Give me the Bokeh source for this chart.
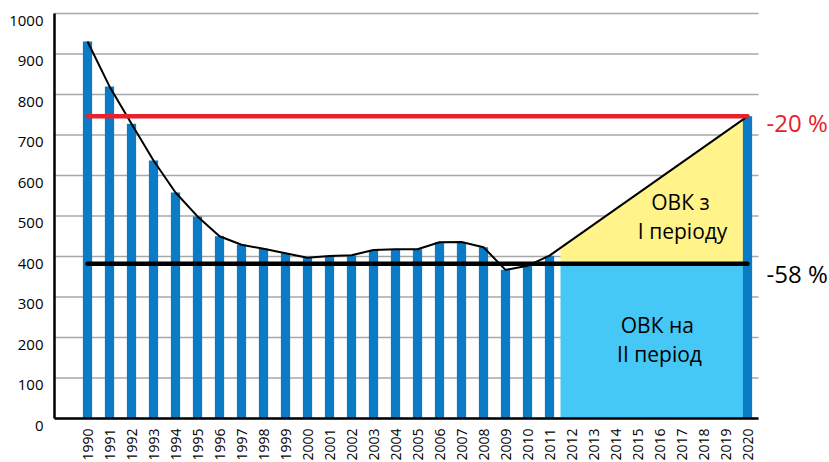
import numpy as np
from bokeh.plotting import figure
from bokeh.models import Range1d, Label, LabelSet, ColumnDataSource
from bokeh.core.properties import value
from bokeh.embed import file_html
from bokeh.resources import INLINE

# ---- data ----
years = list(range(1990, 2012))
emissions = [931, 820, 728, 637, 558, 499, 450, 429, 419, 408, 397, 401,
             403, 416, 418, 418, 435, 436, 423, 367, 377, 402]
target_year = 2020
target_value = 746          # -20 % level
second_period_value = 382   # -58 % level
period2_start = 2011.5
tick_years = list(range(1990, 2021))
y_ticks = list(range(0, 1001, 100))
label_20 = "-20 %"
label_58 = "-58 %"
txt_p1 = ["ОВК з", "І періоду"]
txt_p2 = ["ОВК на", "ІІ період"]

FONT = "Open Sans"
BAR = "#0A7BC4"
LIGHT = "#45C8F5"
YELLOW = "#FFF38A"
RED = "#E8212B"
GRID = "#A8A8A8"

W, H = 829, 462
# plotting area: x 1988.5..2020.5 over 704 px starting at px 54 ; y 0..1000 over 405 px, 0 at px 418
X0, X1 = 1988.5, 2020.5
pxx = 704 / (X1 - X0)
pxy = 405 / 1000
x_range = Range1d(X0 - 54 / pxx, X0 + (W - 54) / pxx)
y_range = Range1d(-(H - 418) / pxy, 418 / pxy)

p = figure(width=W, height=H, output_backend="svg", toolbar_location=None,
           x_range=x_range, y_range=y_range, min_border=0,
           x_axis_type=None, y_axis_type=None)
p.outline_line_color = None
p.grid.visible = False
p.background_fill_color = "white"
p.border_fill_color = "white"

# horizontal gridlines
p.segment(x0=[X0] * len(y_ticks), x1=[X1] * len(y_ticks), y0=y_ticks, y1=y_ticks,
          line_color=GRID, line_width=1.5)

# trend line data (history + straight path to target)
trend_x = years + [target_year]
trend_y = emissions + [target_value]
start_level = float(np.interp(period2_start, trend_x, trend_y))

# second period area (light blue)
p.quad(left=[period2_start], right=[target_year], bottom=[0], top=[second_period_value],
       fill_color=LIGHT, line_color=None)
# first period surplus (yellow)
p.patch(x=[period2_start, target_year, target_year, period2_start],
        y=[start_level, target_value, second_period_value, second_period_value],
        fill_color=YELLOW, line_color=None)

# bars
p.vbar(x=years + [target_year], top=emissions + [target_value], width=0.42,
       fill_color=BAR, line_color=None)

# trend line
p.line(x=trend_x, y=trend_y, line_color="black", line_width=2)

# level lines
p.line(x=[years[0], target_year], y=[second_period_value] * 2, line_color="black",
       line_width=4.5, line_cap="round")
p.line(x=[years[0], target_year], y=[target_value] * 2, line_color=RED,
       line_width=4.5, line_cap="round")

# axis lines
p.segment(x0=[X0, X0], y0=[0, 0], x1=[X0, X1], y1=[y_ticks[-1], 0],
          line_color="black", line_width=2.5)

# y tick labels
ysrc = ColumnDataSource(dict(x=[X0] * len(y_ticks), y=y_ticks, t=[str(v) for v in y_ticks]))
p.add_layout(LabelSet(x="x", y="y", text="t", source=ysrc, x_offset=-11, y_offset=-7,
                      text_align="right", text_baseline="middle",
                      text_font=value(FONT), text_font_size=value("15px"),
                      text_color="black"))

# x tick labels
xsrc = ColumnDataSource(dict(x=tick_years, y=[0] * len(tick_years),
                             t=[str(v) for v in tick_years]))
p.add_layout(LabelSet(x="x", y="y", text="t", source=xsrc, y_offset=-10,
                      angle=np.pi / 2, text_align="right", text_baseline="middle",
                      text_font=value(FONT), text_font_size=value("14px"),
                      text_color="black"))

# right side labels
p.add_layout(Label(x=X1, y=target_value, text=label_20, x_offset=8, y_offset=-6,
                   text_align="left", text_baseline="middle", text_font=FONT,
                   text_font_size="24px", text_color=RED))
p.add_layout(Label(x=X1, y=second_period_value, text=label_58, x_offset=8, y_offset=-10,
                   text_align="left", text_baseline="middle", text_font=FONT,
                   text_font_size="24px", text_color="black"))

# area texts
for t, xx, yy in [(txt_p1[0], 2016.95, 534), (txt_p1[1], 2017.05, 464),
                  (txt_p2[0], 2015.9, 230), (txt_p2[1], 2016.0, 160)]:
    p.add_layout(Label(x=xx, y=yy, text=t, text_align="center", text_baseline="middle",
                       text_font=FONT, text_font_size="21px", text_color="black"))

open("out.html", "w").write(file_html(p, INLINE))
